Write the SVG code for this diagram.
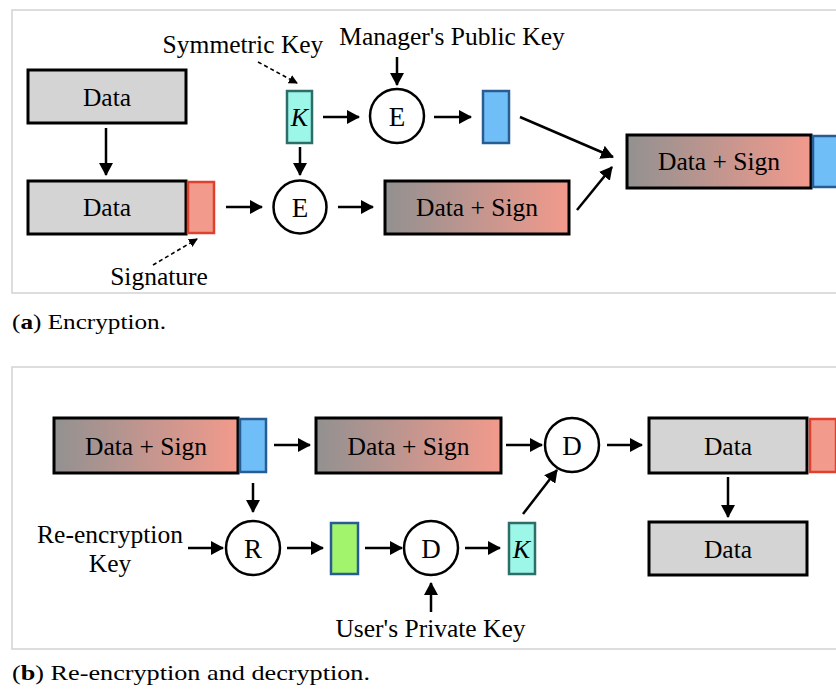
<svg xmlns="http://www.w3.org/2000/svg" width="836" height="693" viewBox="0 0 836 693">
  <defs>
    <linearGradient id="mix" x1="0" y1="0" x2="1" y2="0">
      <stop offset="0" stop-color="#929191"/>
      <stop offset="1" stop-color="#f29a8c"/>
    </linearGradient>
    <marker id="head" markerUnits="userSpaceOnUse" markerWidth="13" markerHeight="14" refX="12" refY="7" orient="auto">
      <path d="M0,0 L13,7 L0,14 z" fill="#000"/>
    </marker>
    <marker id="headSmall" markerUnits="userSpaceOnUse" markerWidth="9" markerHeight="9" refX="8" refY="4.5" orient="auto">
      <path d="M0,0 L9,4.5 L0,9 z" fill="#000"/>
    </marker>
  </defs>
  <style>
    .frame { fill: none; stroke: #d2d2d2; stroke-width: 1.5; }
    .box { stroke: #000; stroke-width: 3; }
    .plain { fill: #d4d4d4; }
    .mixed { fill: url(#mix); }
    .sig { fill: #f29a8c; stroke: #e0402e; stroke-width: 2.5; }
    .pub { fill: #70bef8; stroke: #285d94; stroke-width: 2.5; }
    .key { fill: #9cf7e8; stroke: #2e6e68; stroke-width: 2.5; }
    .green { fill: #a2f46c; stroke: #285d94; stroke-width: 2.5; }
    .op { fill: #fff; stroke: #000; stroke-width: 2.5; }
    .t { font-family: "Liberation Serif", "Times New Roman", serif; font-size: 25.5px; fill: #000; text-anchor: middle; }
    .op-t { font-size: 27px; }
    .k { font-style: italic; font-size: 26px; }
    .cap { font-family: "Liberation Serif", "Times New Roman", serif; font-size: 22px; fill: #000; }
    .arrow { stroke: #000; stroke-width: 2.5; fill: none; marker-end: url(#head); }
    .dash { stroke: #000; stroke-width: 1.6; stroke-dasharray: 4 3; fill: none; marker-end: url(#headSmall); }
  </style>

  <!-- panel frames -->
  <rect class="frame" x="12" y="10" width="834" height="283"/>
  <rect class="frame" x="12" y="367" width="834" height="282"/>

  <!-- ===== Encryption ===== -->
  <g id="data-plain">
    <rect class="box plain" x="28" y="70" width="158" height="53"/>
    <text class="t" x="107" y="106">Data</text>
  </g>
  <g id="data-signed">
    <rect class="box plain" x="28" y="181" width="158" height="53"/>
    <text class="t" x="107" y="216">Data</text>
    <rect class="sig" x="188" y="182" width="26" height="51"/>
  </g>
  <g id="signature-label">
    <text class="t" x="159" y="285">Signature</text>
  </g>
  <g id="symmetric-key-label">
    <text class="t" x="243" y="53">Symmetric Key</text>
  </g>
  <g id="manager-key-label">
    <text class="t" x="452" y="45">Manager's Public Key</text>
  </g>
  <g id="sym-key">
    <rect class="key" x="287" y="91" width="25" height="52"/>
    <text class="t k" x="299.5" y="126">K</text>
  </g>
  <g id="encrypt-data">
    <circle class="op" cx="300" cy="207" r="26.5"/>
    <text class="t op-t" x="300" y="217">E</text>
  </g>
  <g id="encrypt-key">
    <circle class="op" cx="397" cy="116" r="27"/>
    <text class="t op-t" x="397" y="126">E</text>
  </g>
  <g id="encrypted-key">
    <rect class="pub" x="483" y="91" width="26" height="52"/>
  </g>
  <g id="cipher-data">
    <rect class="box mixed" x="385" y="181" width="184" height="53"/>
    <text class="t" x="477" y="216">Data + Sign</text>
  </g>
  <g id="package">
    <rect class="box mixed" x="627" y="135" width="184" height="53"/>
    <text class="t" x="719" y="170">Data + Sign</text>
    <rect class="pub" x="813" y="136" width="30" height="51"/>
  </g>

  <!-- ===== Re-encryption and decryption ===== -->
  <g id="package-in">
    <rect class="box mixed" x="54" y="418" width="184" height="55"/>
    <text class="t" x="146" y="455">Data + Sign</text>
    <rect class="pub" x="240" y="419" width="26" height="53"/>
  </g>
  <g id="cipher-data-2">
    <rect class="box mixed" x="316" y="418" width="185" height="55"/>
    <text class="t" x="408.5" y="455">Data + Sign</text>
  </g>
  <g id="decrypt-data">
    <circle class="op" cx="572" cy="445" r="27"/>
    <text class="t op-t" x="572" y="455">D</text>
  </g>
  <g id="data-out-signed">
    <rect class="box plain" x="649" y="418" width="158" height="55"/>
    <text class="t" x="728" y="455">Data</text>
    <rect class="sig" x="810" y="419" width="26" height="53"/>
  </g>
  <g id="data-out">
    <rect class="box plain" x="649" y="522" width="158" height="53"/>
    <text class="t" x="728" y="558">Data</text>
  </g>
  <g id="reencryption-key-label">
    <text class="t" x="110" y="543">Re-encryption</text>
    <text class="t" x="110" y="572">Key</text>
  </g>
  <g id="reencrypt">
    <circle class="op" cx="253" cy="548" r="27"/>
    <text class="t op-t" x="253" y="558">R</text>
  </g>
  <g id="reencrypted-key">
    <rect class="green" x="331" y="523" width="27" height="51"/>
  </g>
  <g id="decrypt-key">
    <circle class="op" cx="431" cy="548" r="27"/>
    <text class="t op-t" x="431" y="558">D</text>
  </g>
  <g id="sym-key-2">
    <rect class="key" x="509" y="523" width="26" height="51"/>
    <text class="t k" x="521.5" y="558">K</text>
  </g>
  <g id="user-key-label">
    <text class="t" x="430.5" y="637">User's Private Key</text>
  </g>

  <!-- connectors -->
  <g id="connectors">
    <line class="arrow" x1="106" y1="128" x2="106" y2="175"/>
    <line class="arrow" x1="226" y1="207" x2="262" y2="207"/>
    <line class="arrow" x1="338" y1="207" x2="373" y2="207"/>
    <line class="arrow" x1="300" y1="147" x2="300" y2="175"/>
    <line class="arrow" x1="323" y1="117" x2="359" y2="117"/>
    <line class="arrow" x1="397" y1="57" x2="397" y2="85"/>
    <line class="arrow" x1="434" y1="117" x2="471" y2="117"/>
    <line class="arrow" x1="520" y1="117" x2="613" y2="157"/>
    <line class="arrow" x1="577" y1="210" x2="612" y2="167"/>
    <line class="dash" x1="258" y1="62" x2="297" y2="83"/>
    <line class="dash" x1="153" y1="265" x2="197" y2="239"/>

    <line class="arrow" x1="274" y1="445" x2="310" y2="445"/>
    <line class="arrow" x1="506" y1="445" x2="542" y2="445"/>
    <line class="arrow" x1="607" y1="445" x2="642" y2="445"/>
    <line class="arrow" x1="728" y1="477" x2="728" y2="517"/>
    <line class="arrow" x1="253" y1="483" x2="253" y2="512"/>
    <line class="arrow" x1="188" y1="548" x2="223" y2="548"/>
    <line class="arrow" x1="287" y1="548" x2="323" y2="548"/>
    <line class="arrow" x1="365" y1="548" x2="402" y2="548"/>
    <line class="arrow" x1="465" y1="548" x2="500" y2="548"/>
    <line class="arrow" x1="523" y1="514" x2="557" y2="470"/>
    <line class="arrow" x1="431" y1="612" x2="431" y2="583"/>
  </g>

  <!-- captions -->
  <text class="cap" x="12" y="329" textLength="154" lengthAdjust="spacingAndGlyphs">(<tspan font-weight="bold">a</tspan>) Encryption.</text>
  <text class="cap" x="12" y="680" textLength="358" lengthAdjust="spacingAndGlyphs">(<tspan font-weight="bold">b</tspan>) Re-encryption and decryption.</text>
</svg>
